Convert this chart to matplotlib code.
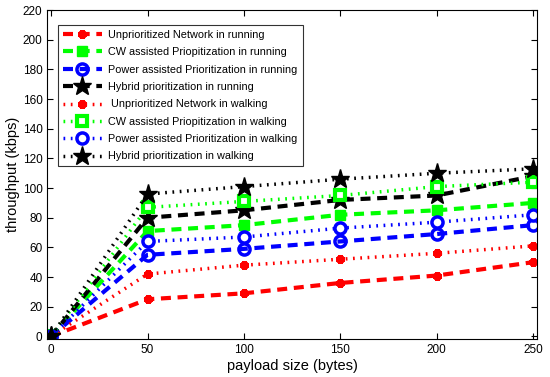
import matplotlib
matplotlib.use("Agg")
import matplotlib.pyplot as plt

plt.rcParams["font.family"] = ["Liberation Sans", "DejaVu Sans"]

payload = [0, 50, 100, 150, 200, 250]

unprio_run = [0, 25, 29, 36, 41, 50]
cw_run = [0, 71, 75, 82, 85, 90]
power_run = [0, 55, 59, 64, 69, 75]
hybrid_run = [0, 80, 85, 92, 95, 108]

unprio_walk = [0, 42, 48, 52, 56, 61]
cw_walk = [0, 87, 91, 95, 101, 104]
power_walk = [0, 64, 67, 73, 77, 82]
hybrid_walk = [0, 96, 101, 106, 110, 113]

labels = [
    "Unprioritized Network in running",
    "CW assisted Priopitization in running",
    "Power assisted Prioritization in running",
    "Hybrid prioritization in running",
    " Unprioritized Network in walking",
    "CW assisted Priopitization in walking",
    "Power assisted Prioritization in walking",
    "Hybrid prioritization in walking",
]

RED, GREEN, BLUE, BLACK = "#ff0000", "#00ff00", "#0000ff", "#000000"
DASH = (0, (2.4, 1.6))
DOT = (0, (0.5, 1.6))

fig = plt.figure(figsize=(5.5, 3.77), dpi=100)
ax = fig.add_axes([0.086, 0.10, 0.89, 0.873])

# running: dashed, filled markers
ax.plot(payload, unprio_run, color=RED, ls=DASH, lw=3, marker=(8, 2, 0),
        ms=6, mew=3, mec=RED, label=labels[0])
ax.plot(payload, cw_run, color=GREEN, ls=DASH, lw=3, marker="s",
        ms=7, mfc=GREEN, mec=GREEN, label=labels[1])
ax.plot(payload, power_run, color=BLUE, ls=DASH, lw=3, marker="o",
        ms=8, mfc="none", mec=BLUE, mew=2.5, label=labels[2])
ax.plot(payload, hybrid_run, color=BLACK, ls=DASH, lw=3, marker="*",
        ms=14, mfc=BLACK, mec=BLACK, label=labels[3])

# walking: dotted, hollow-ish markers
ax.plot(payload, unprio_walk, color=RED, ls=DOT, lw=2.5, marker=(8, 2, 0),
        ms=6, mew=3, mec=RED, label=labels[4])
ax.plot(payload, cw_walk, color=GREEN, ls=DOT, lw=2.5, marker="s",
        ms=7, mfc="white", mec=GREEN, mew=3, label=labels[5])
ax.plot(payload, power_walk, color=BLUE, ls=DOT, lw=2.5, marker="o",
        ms=8, mfc="white", mec=BLUE, mew=2.5, label=labels[6])
ax.plot(payload, hybrid_walk, color=BLACK, ls=DOT, lw=2.5, marker="*",
        ms=14, mfc=BLACK, mec=BLACK, label=labels[7])

ax.set_xlim(-2, 252)
ax.set_ylim(-2, 220)
ax.set_xticks(payload)
ax.set_yticks(range(0, 221, 20))
ax.tick_params(direction="in", top=True, right=True, labelsize=8.5, length=4)
ax.set_xlabel("payload size (bytes)", fontsize=10.5, labelpad=2)
ax.set_ylabel("throughput (kbps)", fontsize=10.5, labelpad=2)
for s in ax.spines.values():
    s.set_linewidth(0.8)

leg = ax.legend(loc="upper left", bbox_to_anchor=(0.022, 0.955), fontsize=7.8,
                frameon=True, fancybox=False, edgecolor="black",
                handlelength=3.6, borderpad=0.45, labelspacing=0.68,
                handletextpad=0.6, borderaxespad=0)
leg.get_frame().set_linewidth(0.8)

fig.savefig("out.png", dpi=100)
